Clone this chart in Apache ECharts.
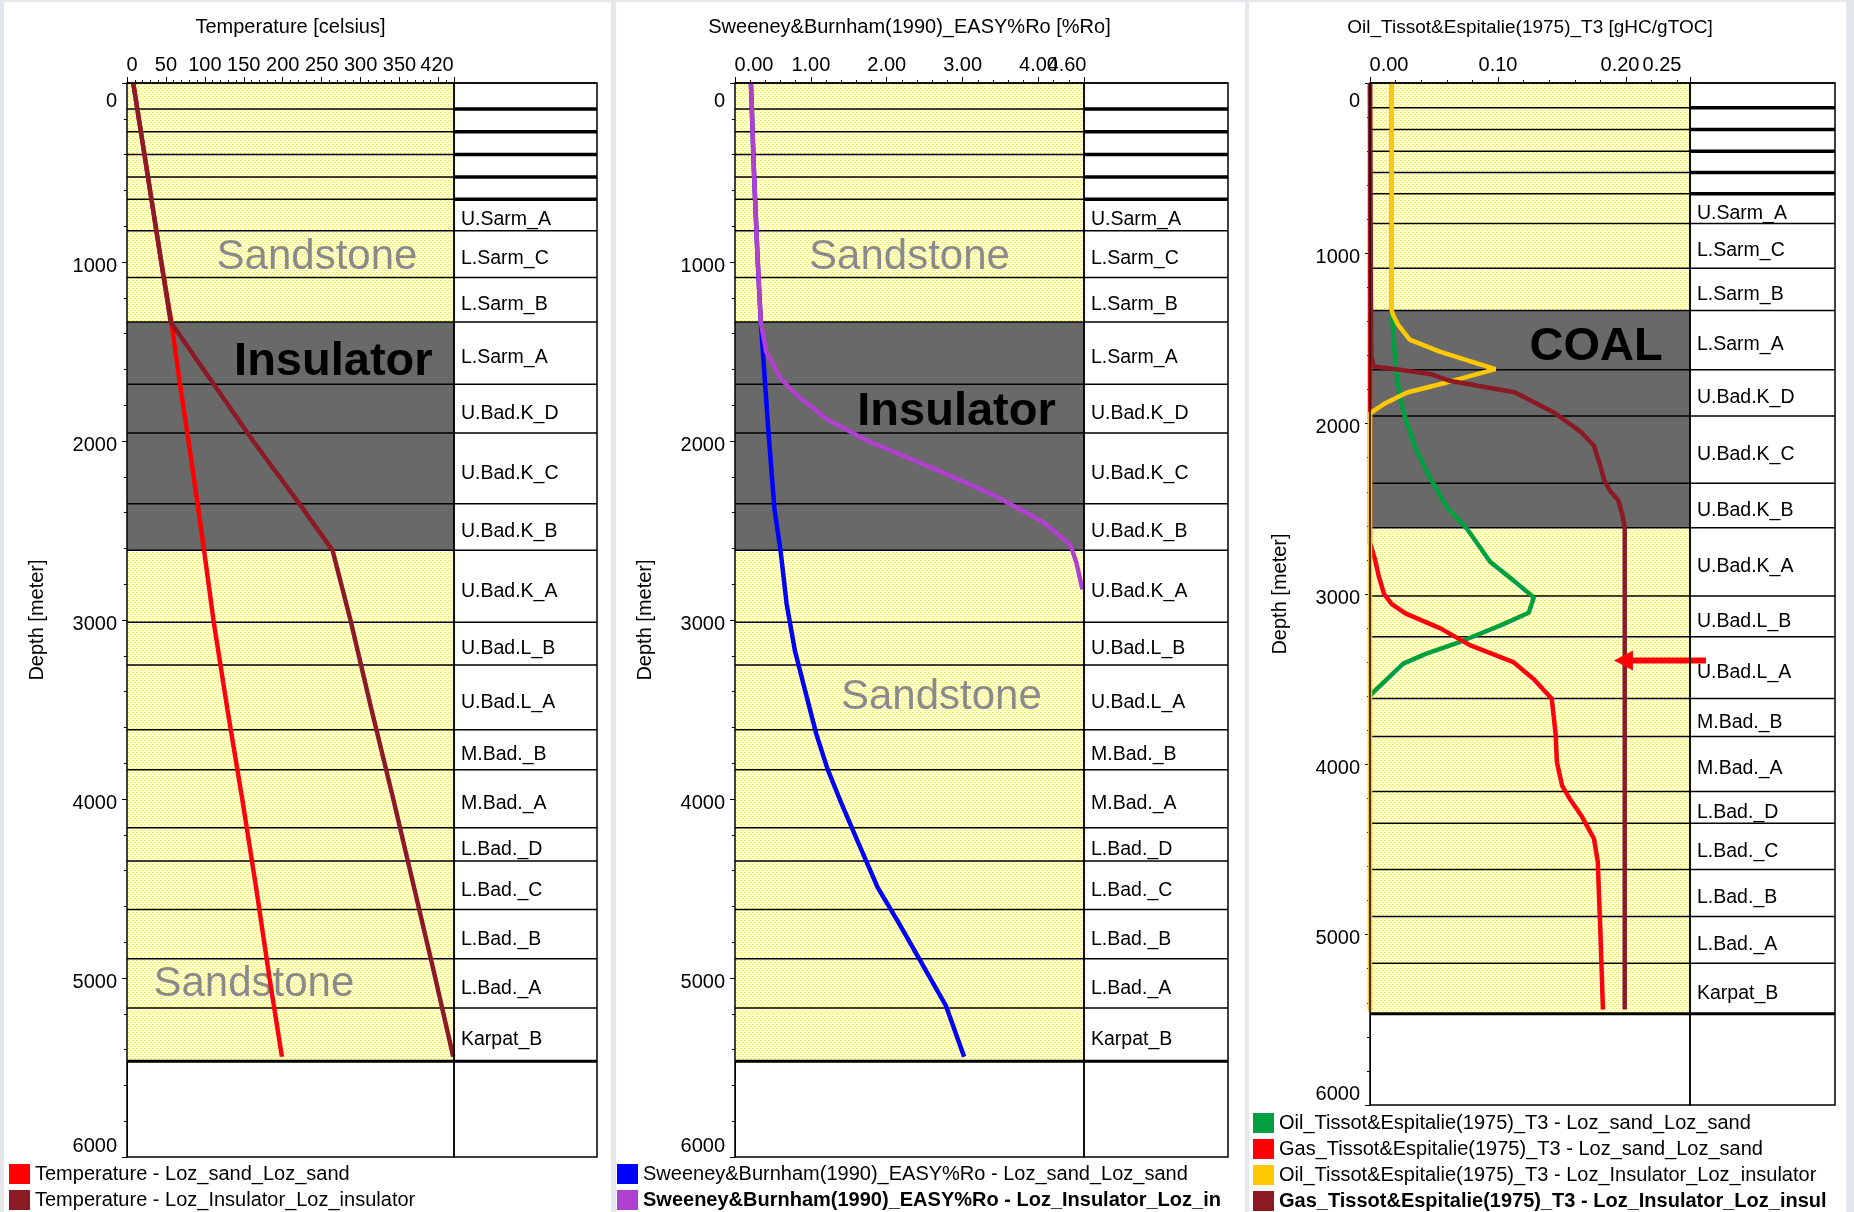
<!DOCTYPE html>
<html>
<head>
<meta charset="utf-8">
<script src="https://cdn.jsdelivr.net/npm/echarts@6/dist/echarts.min.js"></script>
<style>
  html, body { margin: 0; padding: 0; background: #e4e8ec; }
  #chart { width: 1854px; height: 1212px; }
</style>
</head>
<body>
<div id="chart"></div>
<script>
const FONT = '"Liberation Sans", Arial, Helvetica, sans-serif';
const FS = 20;

// ---- Stratigraphy (depths in metres) ----
const layerNames = ['', '', '', '', '', 'U.Sarm_A', 'L.Sarm_C', 'L.Sarm_B', 'L.Sarm_A', 'U.Bad.K_D',
  'U.Bad.K_C', 'U.Bad.K_B', 'U.Bad.K_A', 'U.Bad.L_B', 'U.Bad.L_A', 'M.Bad._B', 'M.Bad._A',
  'L.Bad._D', 'L.Bad._C', 'L.Bad._B', 'L.Bad._A', 'Karpat_B'];
const layerTops = [0, 145, 273, 400, 525, 650, 825, 1087, 1335, 1683, 1955, 2350, 2611, 3012,
  3251, 3613, 3837, 4160, 4346, 4618, 4893, 5168];
const layerBase = 5465;
const insulatorLayers = ['L.Sarm_A', 'U.Bad.K_D', 'U.Bad.K_C', 'U.Bad.K_B'];

// ---- Temperature [celsius] ----
const tempDepth = [0, 500, 1000, 1335, 1680, 2000, 2330, 2611, 3000, 3500, 4000, 4500, 5000, 5440];
const tempSand = [8, 26, 44, 57, 68, 79, 90, 99, 111, 129, 148, 166, 183, 199];
const tempInsulator = [8, 26, 44, 56, 111, 162, 218, 264, 287, 314, 342, 369, 396, 419];

// ---- EASY%Ro [%Ro] ----
const roInsDepth = [0, 500, 1000, 1335, 1500, 1650, 1750, 1880, 2000, 2150, 2300, 2450, 2580, 2680, 2830];
const roInsulator = [0.21, 0.25, 0.30, 0.34, 0.41, 0.60, 0.83, 1.22, 1.75, 2.60, 3.40, 4.05, 4.42, 4.50, 4.58];
const roSandDepth = [0, 500, 1000, 1335, 1700, 2000, 2380, 2611, 2908, 3172, 3371, 3635, 3833, 4032,
  4230, 4494, 4693, 4924, 5155, 5440];
const roSand = [0.21, 0.25, 0.30, 0.34, 0.40, 0.45, 0.52, 0.60, 0.68, 0.79, 0.91, 1.07, 1.22, 1.41,
  1.61, 1.88, 2.16, 2.47, 2.78, 3.02];

// ---- Tissot & Espitalie (1975) T3 [gHC/gTOC] ----
const oilSandDepth = [0, 1335, 1446, 1668, 1870, 2000, 2150, 2293, 2490, 2620, 2812, 2920, 3020,
  3110, 3184, 3282, 3350, 3409, 3595];
const oilSand = [0.017, 0.017, 0.018, 0.020, 0.024, 0.029, 0.036, 0.045, 0.060, 0.076, 0.094, 0.112,
  0.128, 0.124, 0.102, 0.070, 0.044, 0.026, 0.0];
const gasSandDepth = [0, 2700, 2800, 2900, 3000, 3060, 3115, 3202, 3300, 3400, 3500, 3615, 3820,
  3986, 4123, 4202, 4300, 4437, 4574, 4790, 4984, 5218, 5440];
const gasSand = [0, 0, 0.004, 0.007, 0.011, 0.017, 0.028, 0.055, 0.078, 0.112, 0.128, 0.142, 0.145,
  0.146, 0.150, 0.156, 0.165, 0.175, 0.178, 0.179, 0.180, 0.181, 0.182];
const oilInsDepth = [0, 1335, 1360, 1420, 1507, 1578, 1680, 1758, 1817, 1880, 1940, 5450];
const oilInsulator = [0.017, 0.017, 0.018, 0.022, 0.031, 0.055, 0.098, 0.060, 0.029, 0.012, 0, 0];
const gasInsDepth = [0, 1600, 1665, 1685, 1710, 1750, 1816, 1936, 2050, 2130, 2250, 2333, 2400,
  2450, 2530, 2611, 5440];
const gasInsulator = [0, 0.001, 0.003, 0.025, 0.048, 0.063, 0.113, 0.144, 0.165, 0.175, 0.180,
  0.183, 0.188, 0.194, 0.197, 0.199, 0.199];

// ---- In-track annotations: [text, x value, depth] ----
const tempNotes = [['Sandstone', 244, 950], ['Insulator', 265, 1539], ['Sandstone', 163, 5011]];
const roNotes = [['Sandstone', 2.30, 950], ['Insulator', 2.92, 1817], ['Sandstone', 2.72, 3410]];
const tocNotes = [['COAL', 0.1767, 1528]];
// highlighted depth: [arrow tip value, arrow tail value, depth]
const tocArrow = [[0.1906, 0.2625, 3391]];

// ---------------------------------------------------------------
const zip = (xs, ys) => xs.map((x, i) => [x, ys[i]]);

const layerRows = layerTops.map((t, i) => [
  t,
  i + 1 < layerTops.length ? layerTops[i + 1] : layerBase,
  insulatorLayers.indexOf(layerNames[i]) >= 0 ? 1 : 0
]);
const lastLayer = layerRows.length - 1;

function makeSandPattern() {
  const c = document.createElement('canvas');
  c.width = 4; c.height = 4;
  const g = c.getContext('2d');
  g.fillStyle = '#fffff4';
  g.fillRect(0, 0, 4, 4);
  g.fillStyle = '#f2ee00';
  g.fillRect(0, 0, 1, 1);
  g.fillRect(2, 2, 1, 1);
  return { image: c, repeat: 'repeat' };
}
const SAND = makeSandPattern();
const INSULATOR_FILL = '#696969';

function renderLithology(params, api) {
  const cs = params.coordSys;
  const y0 = api.coord([0, api.value(0)])[1];
  const y1 = api.coord([0, api.value(1)])[1];
  const children = [
    { type: 'rect', shape: { x: cs.x, y: y0, width: cs.width, height: y1 - y0 },
      style: { fill: api.value(2) ? INSULATOR_FILL : SAND } },
    { type: 'line', shape: { x1: cs.x, y1: y0, x2: cs.x + cs.width, y2: y0 },
      style: { stroke: '#000', lineWidth: 1.5 } }
  ];
  if (params.dataIndex === lastLayer) {
    children.push({ type: 'line', shape: { x1: cs.x, y1: y1, x2: cs.x + cs.width, y2: y1 },
      style: { stroke: '#000', lineWidth: 3 } });
  }
  return { type: 'group', children };
}

function renderColumn(params, api) {
  const cs = params.coordSys;
  const i = params.dataIndex;
  const y0 = api.coord([0, api.value(0)])[1];
  const y1 = api.coord([0, api.value(1)])[1];
  const children = [
    { type: 'line', shape: { x1: cs.x, y1: y0, x2: cs.x + cs.width, y2: y0 },
      style: { stroke: '#000', lineWidth: (i > 0 && i <= 5) ? 3.5 : 1.5 } },
    { type: 'text', x: cs.x + 7, y: (y0 + y1) / 2 + 5,
      style: { text: layerNames[i], fill: '#000', fontSize: 19.5, fontFamily: FONT,
               align: 'left', verticalAlign: 'middle' } }
  ];
  if (i === lastLayer) {
    children.push({ type: 'line', shape: { x1: cs.x, y1: y1, x2: cs.x + cs.width, y2: y1 },
      style: { stroke: '#000', lineWidth: 3 } });
  }
  return { type: 'group', children };
}

function notesRenderer(notes) {
  return function (params, api) {
    const p = api.coord([api.value(0), api.value(1)]);
    const text = notes[params.dataIndex][0];
    const sand = text === 'Sandstone';
    return { type: 'text', x: p[0], y: p[1] + 4,
      style: { text, fill: sand ? '#8a8a8a' : '#000', fontSize: sand ? 42 : 47,
               fontWeight: sand ? 'normal' : 'bold', fontFamily: FONT,
               align: 'center', verticalAlign: 'middle' } };
  };
}

function renderArrow(params, api) {
  const tip = api.coord([api.value(0), api.value(2)]);
  const tail = api.coord([api.value(1), api.value(2)]);
  return { type: 'group', children: [
    { type: 'line', shape: { x1: tail[0], y1: tail[1], x2: tip[0] + 14, y2: tip[1] },
      style: { stroke: '#ff0000', lineWidth: 6 } },
    { type: 'polygon', shape: { points: [[tip[0], tip[1]], [tip[0] + 19, tip[1] - 10], [tip[0] + 19, tip[1] + 10]] },
      style: { fill: '#ff0000' } }
  ] };
}

// ---- axes ----
const labelBase = { fontSize: FS, fontFamily: FONT, color: '#000' };
const xRich = {
  c: Object.assign({}, labelBase),
  l1: Object.assign({ padding: [0, 0, 0, 10] }, labelBase),
  l4: Object.assign({ padding: [0, 0, 0, 38] }, labelBase),
  r: Object.assign({ padding: [0, 34, 0, 0] }, labelBase),
  s: Object.assign({ padding: [0, 12, 0, 0] }, labelBase),
  rr: Object.assign({ padding: [0, 56, 0, 0] }, labelBase)
};
const yRich = {
  m: Object.assign({ padding: [8, 0, 0, 0] }, labelBase),
  t: Object.assign({ padding: [36, 0, 0, 0] }, labelBase),
  b: Object.assign({ padding: [0, 0, 22, 0] }, labelBase)
};

function plotX(gridIndex, name, max, interval, formatter, nameSize, showMax) {
  return {
    gridIndex, type: 'value', position: 'top', min: 0, max, interval,
    name, nameLocation: 'middle', nameGap: 46,
    nameTextStyle: { fontSize: nameSize, color: '#000', fontFamily: FONT },
    axisLine: { show: true, lineStyle: { color: '#000', width: 1 } },
    axisTick: { show: true, length: 6, lineStyle: { color: '#000', width: 1 } },
    minorTick: { show: true, splitNumber: 5, length: 3, lineStyle: { color: '#000', width: 1 } },
    splitLine: { show: false }, minorSplitLine: { show: false },
    axisLabel: { margin: 8, color: '#000', fontSize: FS, fontFamily: FONT, formatter, rich: xRich,
                 hideOverlap: false, showMinLabel: true, showMaxLabel: showMax }
  };
}
// end-of-scale label that sits over the neighbouring tick label (drawn by its own axis)
function endLabelX(gridIndex, gridHeight, max, formatter) {
  return {
    gridIndex, type: 'value', position: 'bottom', offset: -gridHeight, min: 0, max, interval: max,
    axisLine: { show: false },
    axisTick: { show: true, inside: true, length: 6, lineStyle: { color: '#000', width: 1 } },
    minorTick: { show: false }, splitLine: { show: false }, minorSplitLine: { show: false },
    axisLabel: { inside: true, margin: 8, color: '#000', fontSize: FS, fontFamily: FONT, formatter, rich: xRich,
                 hideOverlap: false, showMinLabel: true, showMaxLabel: true }
  };
}
function plotY(gridIndex) {
  return {
    gridIndex, type: 'value', inverse: true, min: 0, max: 6000, interval: 1000,
    name: 'Depth [meter]', nameLocation: 'middle', nameGap: 80, nameRotate: 90,
    nameTextStyle: { fontSize: FS, color: '#000', fontFamily: FONT },
    axisLine: { show: true, lineStyle: { color: '#000', width: 1 } },
    axisTick: { show: true, length: 5, lineStyle: { color: '#000', width: 1 } },
    minorTick: { show: true, splitNumber: 5, length: 3, lineStyle: { color: '#000', width: 1 } },
    splitLine: { show: false }, minorSplitLine: { show: false },
    axisLabel: {
      margin: 10, color: '#000', fontSize: FS, fontFamily: FONT, rich: yRich,
      hideOverlap: false, showMinLabel: true, showMaxLabel: true,
      formatter: v => v === 0 ? '{t|0}' : (v === 6000 ? '{b|6000}' : '{m|' + v + '}')
    }
  };
}
const hiddenX = gridIndex => ({ gridIndex, type: 'value', min: 0, max: 1, show: false });
const hiddenY = gridIndex => ({ gridIndex, type: 'value', inverse: true, min: 0, max: 6000, show: false });

const near = (a, b) => Math.abs(a - b) < 1e-9;
const tempFmt = v => v === 0 ? '{l1|0}' : (v === 420 ? '{r|420}' : (v === 400 ? '' : '{c|' + v + '}'));
const roFmt = v => v === 0 ? '{l4|0.00}' : '{c|' + v.toFixed(2) + '}';
const roEndFmt = v => near(v, 4.6) ? '{r|4.60}' : '';
const tocFmt = v => v === 0 ? '{l4|0.00}' : (near(v, 0.25) ? '{rr|0.25}' : (near(v, 0.2) ? '{s|0.20}' : '{c|' + v.toFixed(2) + '}'));

// ---- layout ----
const gridBase = { show: true, z: 10, borderColor: '#000', borderWidth: 1.5, backgroundColor: 'transparent', containLabel: false };
const grids = [
  { left: 127, top: 83, width: 327, height: 1074 },
  { left: 454, top: 83, width: 143, height: 1074 },
  { left: 735, top: 83, width: 349, height: 1074 },
  { left: 1084, top: 83, width: 144, height: 1074 },
  { left: 1370, top: 83, width: 320, height: 1022 },
  { left: 1690, top: 83, width: 145, height: 1022 }
].map(g => Object.assign({}, gridBase, g));

const legendBase = {
  orient: 'vertical', icon: 'rect', itemWidth: 21, itemHeight: 20, itemGap: 6, padding: 0,
  selectedMode: false, itemStyle: { borderWidth: 0 },
  textStyle: { fontSize: FS, fontFamily: FONT, color: '#000' }
};

const N = {
  tSand: 'Temperature - Loz_sand_Loz_sand',
  tIns: 'Temperature - Loz_Insulator_Loz_insulator',
  rSand: 'Sweeney&Burnham(1990)_EASY%Ro - Loz_sand_Loz_sand',
  rIns: 'Sweeney&Burnham(1990)_EASY%Ro - Loz_Insulator_Loz_insulator',
  oSand: 'Oil_Tissot&Espitalie(1975)_T3 - Loz_sand_Loz_sand',
  gSand: 'Gas_Tissot&Espitalie(1975)_T3 - Loz_sand_Loz_sand',
  oIns: 'Oil_Tissot&Espitalie(1975)_T3 - Loz_Insulator_Loz_insulator',
  gIns: 'Gas_Tissot&Espitalie(1975)_T3 - Loz_Insulator_Loz_insulator'
};

function curve(name, xi, data, color) {
  return { type: 'line', name, xAxisIndex: xi, yAxisIndex: xi, data, color,
    symbol: 'none', clip: false, lineStyle: { width: 4.5, color }, z: 3 };
}
function track(xi, ci, notes) {
  return [
    { type: 'custom', xAxisIndex: xi, yAxisIndex: xi, data: layerRows, renderItem: renderLithology, silent: true, z: 1 },
    { type: 'custom', xAxisIndex: ci, yAxisIndex: ci, data: layerRows, renderItem: renderColumn, silent: true, z: 1 },
    { type: 'custom', xAxisIndex: xi, yAxisIndex: xi, data: notes.map(n => [n[1], n[2]]), renderItem: notesRenderer(notes), silent: true, z: 2 }
  ];
}

const option = {
  backgroundColor: '#e4e8ec',
  animation: false,
  textStyle: { fontFamily: FONT },
  graphic: { elements: [
    { type: 'rect', shape: { x: 4, y: 2, width: 607, height: 1210 }, style: { fill: '#fff' }, z: -10, silent: true },
    { type: 'rect', shape: { x: 616, y: 2, width: 629, height: 1210 }, style: { fill: '#fff' }, z: -10, silent: true },
    { type: 'rect', shape: { x: 1249, y: 2, width: 597, height: 1210 }, style: { fill: '#fff' }, z: -10, silent: true }
  ] },
  grid: grids,
  xAxis: [
    plotX(0, 'Temperature [celsius]', 420, 50, tempFmt, FS, true), hiddenX(1),
    plotX(2, 'Sweeney&Burnham(1990)_EASY%Ro [%Ro]', 4.6, 1, roFmt, FS, false), hiddenX(3),
    plotX(4, 'Oil_Tissot&Espitalie(1975)_T3 [gHC/gTOC]', 0.25, 0.1, tocFmt, 19, true), hiddenX(5),
    endLabelX(2, 1074, 4.6, roEndFmt)
  ],
  yAxis: [plotY(0), hiddenY(1), plotY(2), hiddenY(3), plotY(4), hiddenY(5)],
  legend: [
    Object.assign({}, legendBase, { left: 9, top: 1164, data: [N.tSand, N.tIns] }),
    Object.assign({}, legendBase, { left: 617, top: 1164, data: [N.rSand,
      { name: N.rIns, textStyle: { fontWeight: 'bold', width: 580, overflow: 'truncate', ellipsis: '' } }] }),
    Object.assign({}, legendBase, { left: 1253, top: 1113, data: [N.oSand, N.gSand, N.oIns,
      { name: N.gIns, textStyle: { fontWeight: 'bold', width: 552, overflow: 'truncate', ellipsis: '' } }] })
  ],
  series: [
    ...track(0, 1, tempNotes),
    curve(N.tSand, 0, zip(tempSand, tempDepth), '#ff0000'),
    curve(N.tIns, 0, zip(tempInsulator, tempDepth), '#8b1a24'),

    ...track(2, 3, roNotes),
    curve(N.rSand, 2, zip(roSand, roSandDepth), '#0000ff'),
    curve(N.rIns, 2, zip(roInsulator, roInsDepth), '#b040d0'),

    ...track(4, 5, tocNotes),
    curve(N.oSand, 4, zip(oilSand, oilSandDepth), '#00a040'),
    curve(N.gSand, 4, zip(gasSand, gasSandDepth), '#ff0000'),
    curve(N.oIns, 4, zip(oilInsulator, oilInsDepth), '#ffc800'),
    curve(N.gIns, 4, zip(gasInsulator, gasInsDepth), '#8b1a24'),
    { type: 'custom', xAxisIndex: 4, yAxisIndex: 4, data: tocArrow, renderItem: renderArrow, silent: true, z: 5 }
  ]
};

const chart = echarts.init(document.getElementById('chart'), null, { renderer: 'canvas' });
chart.setOption(option);
</script>
</body>
</html>
